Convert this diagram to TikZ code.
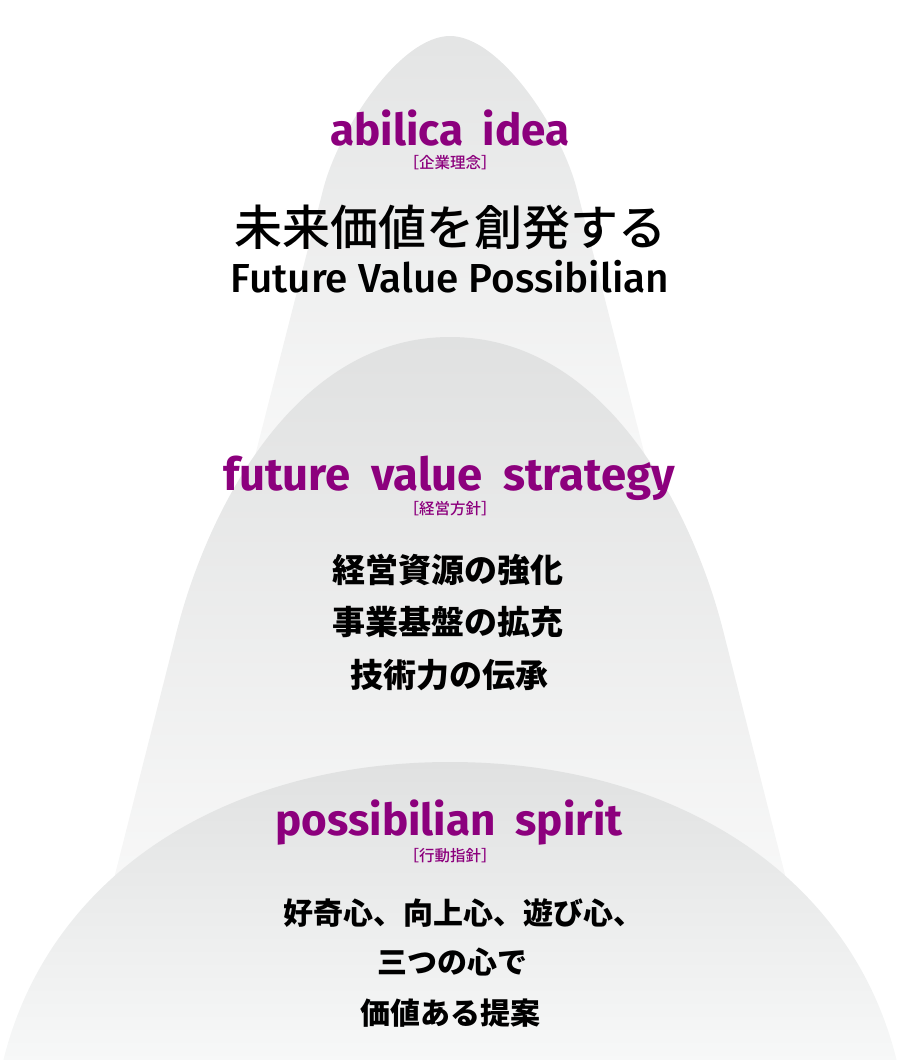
\documentclass[tikz,border=0pt]{standalone}
\usepackage{fontspec}
\setmainfont{Fira Sans}
\newfontfamily\firamed{Fira Sans Medium}
\newfontfamily\jpfont{Noto Sans CJK JP}
\newfontfamily\jpmed{Noto Sans CJK JP Medium}
\usetikzlibrary{positioning}

\definecolor{abpurple}{HTML}{8C007D}
\definecolor{domehi}{HTML}{E0E1E1}
\definecolor{domelo}{HTML}{F8F9F9}

\begin{document}
\begin{tikzpicture}[x=1pt, y=-1pt,
  every node/.style={inner sep=0pt},
  dome/.style={shading=axis, top color=domehi, bottom color=domelo},
  title/.style={anchor=base, text=abpurple, font=\bfseries\fontsize{44}{50}\selectfont},
  tag/.style={text=abpurple, font=\jpmed\fontsize{15.5}{18}\selectfont},
  motto/.style={font=\jpfont\bfseries\fontsize{33}{38}\selectfont},
  spiritline/.style={font=\jpfont\bfseries\fontsize{30}{36}\selectfont}]
  \useasboundingbox (0,0) rectangle (900,1060);
  \clip (0,0) rectangle (900,1060);
  % three domes, back to front
  \shade[dome, top color=domehi!85!domelo, bottom color=white] (213,620) -- (323,190)
    .. controls (338,130) and (400,36) .. (450,36)
    .. controls (500,36) and (562,130) .. (577,190) -- (687,620) -- cycle;
  \shade[dome, bottom color=white] (68,1060) -- (177,630)
    .. controls (205,520) and (290,337) .. (450,337)
    .. controls (610,337) and (695,520) .. (723,630) -- (832,1060) -- cycle;
  \shade[dome] (0,1075) .. controls (40,880) and (220,762) .. (450,762)
    .. controls (680,762) and (860,880) .. (900,1075) -- cycle;
  % corporate idea
  \node[title] (idea) at (450,145) {abilica\hspace{0.45em}idea};
  \node[tag] (ideatag) at (450,163) {［企業理念］};
  \node[font=\jpmed\fontsize{48}{54}\selectfont] (ideajp) at (450,227) {未来価値を創発する};
  \node[anchor=base, font=\firamed\fontsize{40.5}{46}\selectfont] (ideaen) at (450,292) {Future Value Possibilian};
  % management policy
  \node[title, font=\bfseries\fontsize{45.5}{50}\selectfont] (strategy) at (449,490) {future\hspace{0.45em}value\hspace{0.45em}strategy};
  \node[tag] (strategytag) at (450,509) {［経営方針］};
  \node[motto] (s1) at (448,570) {経営資源の強化};
  \node[motto] (s2) at (448,622) {事業基盤の拡充};
  \node[motto] (s3) at (449,675) {技術力の伝承};
  % action guideline
  \node[title] (spirit) at (449,835) {possibilian\hspace{0.45em}spirit};
  \node[tag] (spirittag) at (450,856) {［行動指針］};
  \node[spiritline] (p1) at (463,913) {好奇心、向上心、遊び心、};
  \node[spiritline] (p2) at (452,962) {三つの心で};
  \node[spiritline] (p3) at (450,1013) {価値ある提案};
\end{tikzpicture}
\end{document}
